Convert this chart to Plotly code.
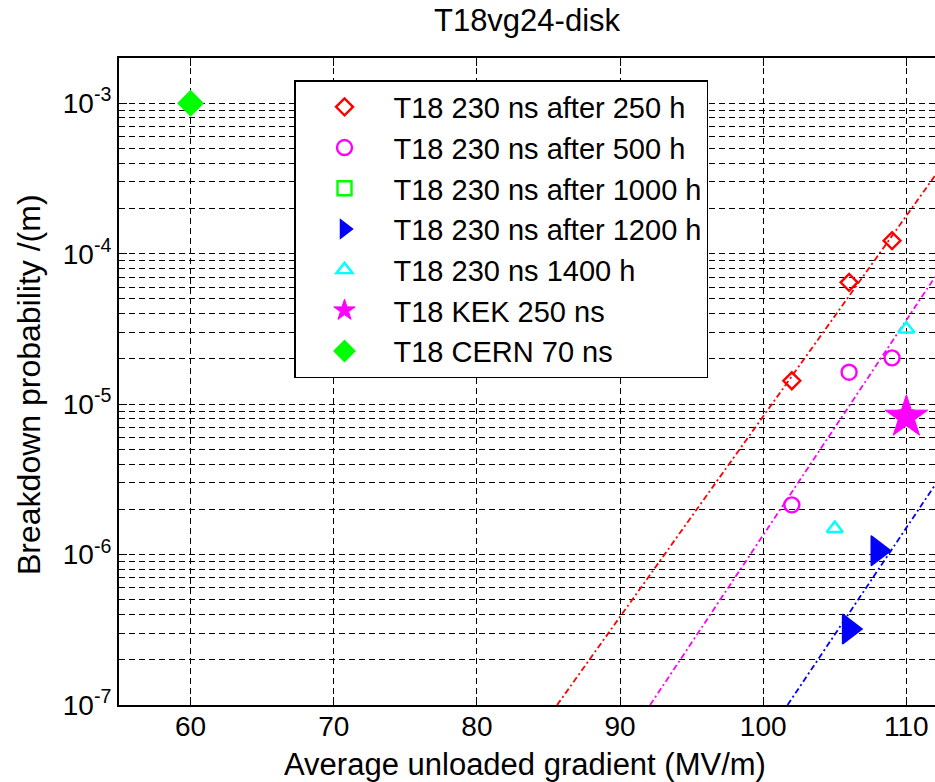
import plotly.graph_objects as go

# ---- data ----
red_x = [102, 106, 109]
red_y = [1.43e-5, 6.45e-5, 1.22e-4]

mag_x = [102, 106, 109]
mag_y = [2.14e-6, 1.63e-5, 2.03e-5]

grn_sq_x = [110]
grn_sq_y = [8.2e-6]

blue_x = [106, 108]
blue_y = [3.2e-7, 1.06e-6]

cyan_x = [105, 110]
cyan_y = [1.49e-6, 3.16e-5]

kek_x = [110]
kek_y = [8.2e-6]

cern_x = [60]
cern_y = [1.0e-3]

# fit lines (end points)
red_fit_x = [85.6, 112.0]
red_fit_y = [1.0e-7, 3.3e-4]
mag_fit_x = [92.1, 112.0]
mag_fit_y = [1.0e-7, 7.0e-5]
blue_fit_x = [101.7, 112.0]
blue_fit_y = [1.0e-7, 2.9e-6]

x_ticks = [60, 70, 80, 90, 100, 110]
y_tickvals = [1e-7, 1e-6, 1e-5, 1e-4, 1e-3]
y_ticktext = ["10<sup>-7</sup>", "10<sup>-6</sup>", "10<sup>-5</sup>",
              "10<sup>-4</sup>", "10<sup>-3</sup>"]

FONT = "Liberation Sans, Arial, Helvetica, sans-serif"
DASHDOT = "6px,3px,2px,3px"

fig = go.Figure()

# fit lines
for fx, fy, col in [(red_fit_x, red_fit_y, "#FF0000"),
                    (mag_fit_x, mag_fit_y, "#FF00FF"),
                    (blue_fit_x, blue_fit_y, "#0000FF")]:
    fig.add_trace(go.Scatter(x=fx, y=fy, mode="lines", showlegend=False,
                             line=dict(color=col, width=1.8, dash=DASHDOT),
                             hoverinfo="skip"))

fig.add_trace(go.Scatter(x=red_x, y=red_y, mode="markers",
                         name="T18 230 ns after 250 h",
                         marker=dict(symbol="diamond-open", size=13, color="#FF0000",
                                     line=dict(width=2.4, color="#FF0000"))))
fig.add_trace(go.Scatter(x=mag_x, y=mag_y, mode="markers",
                         name="T18 230 ns after 500 h",
                         marker=dict(symbol="circle-open", size=15, color="#FF00FF",
                                     line=dict(width=2.4, color="#FF00FF"))))
fig.add_trace(go.Scatter(x=grn_sq_x, y=grn_sq_y, mode="markers",
                         name="T18 230 ns after 1000 h",
                         marker=dict(symbol="square-open", size=14, color="#00FF00",
                                     line=dict(width=2.4, color="#00FF00"))))
fig.add_trace(go.Scatter(x=blue_x, y=blue_y, mode="markers",
                         name="T18 230 ns after 1200 h",
                         marker=dict(symbol="triangle-right", size=26, color="#0000FF",
                                     line=dict(width=1.5, color="#0000FF"))))
fig.add_trace(go.Scatter(x=cyan_x, y=cyan_y, mode="markers",
                         name="T18 230 ns 1400 h",
                         marker=dict(symbol="triangle-up-open", size=14, color="#00FFFF",
                                     line=dict(width=2.4, color="#00FFFF"))))
fig.add_trace(go.Scatter(x=kek_x, y=kek_y, mode="markers",
                         name="T18 KEK 250 ns",
                         marker=dict(symbol="star", size=32, color="#FF00FF",
                                     line=dict(width=1, color="#FF00FF"))))
fig.add_trace(go.Scatter(x=cern_x, y=cern_y, mode="markers",
                         name="T18 CERN 70 ns",
                         marker=dict(symbol="diamond", size=19, color="#00FF00",
                                     line=dict(width=1.5, color="#00FF00"))))

W, H = 935, 782
ML, MR, MT, MB = 119, 0, 58, 77
PW, PH = W - ML - MR, H - MT - MB


def px_x(p):
    return (p - ML) / PW


def px_y(p):
    return 1 - (p - MT) / PH


fig.update_layout(
    width=W, height=H,
    margin=dict(l=ML, r=MR, t=MT, b=MB, pad=0, autoexpand=False),
    paper_bgcolor="white", plot_bgcolor="white",
    font=dict(family=FONT, size=28, color="black"),
    title=dict(text="T18vg24-disk", x=0.5, xref="paper", xanchor="center",
               y=1 - 20 / H, yref="container", yanchor="middle", automargin=False,
               font=dict(family=FONT, size=31, color="black")),
    showlegend=True,
    legend=dict(x=px_x(294), y=px_y(80),
                xanchor="left", yanchor="top",
                bgcolor="white", bordercolor="black", borderwidth=1.5,
                font=dict(family=FONT, size=29, color="black"),
                itemwidth=88, tracegroupgap=0, itemsizing="trace"),
    xaxis=dict(type="linear", range=[55, 112], tickvals=x_ticks, automargin=False,
               ticks="inside", ticklen=8, tickcolor="black", tickwidth=1,
               ticklabelstandoff=-5,
               showline=True, linecolor="black", linewidth=2, mirror="ticks",
               showgrid=True, gridcolor="black", gridwidth=1, griddash="6px,4px",
               zeroline=False,
               tickfont=dict(family=FONT, size=28, color="black")),
    yaxis=dict(type="log", range=[-7, -2.699], tickvals=y_tickvals, ticktext=y_ticktext,
               automargin=False,
               ticks="inside", ticklen=8, tickcolor="black", tickwidth=1,
               showline=True, linecolor="black", linewidth=2, mirror=False,
               showgrid=True, gridcolor="black", gridwidth=1, griddash="6px,4px",
               zeroline=False,
               minor=dict(dtick="D1", ticks="inside", ticklen=4, tickcolor="black",
                          showgrid=True, gridcolor="black", gridwidth=1, griddash="6px,4px"),
               tickfont=dict(family=FONT, size=28, color="black")),
    annotations=[
        dict(text="Average unloaded gradient (MV/m)", xref="paper", yref="paper",
             x=px_x(525), y=px_y(764), xanchor="center", yanchor="middle",
             showarrow=False, font=dict(family=FONT, size=31, color="black")),
        dict(text="Breakdown probability /(m)", xref="paper", yref="paper",
             x=px_x(29), y=px_y(385), xanchor="center", yanchor="middle",
             textangle=-90, showarrow=False,
             font=dict(family=FONT, size=32, color="black")),
    ],
)

fig.write_html("out.html",
               config={"displayModeBar": False},
               post_script="document.body.style.margin='0';"
                           "document.body.style.overflow='hidden';")
